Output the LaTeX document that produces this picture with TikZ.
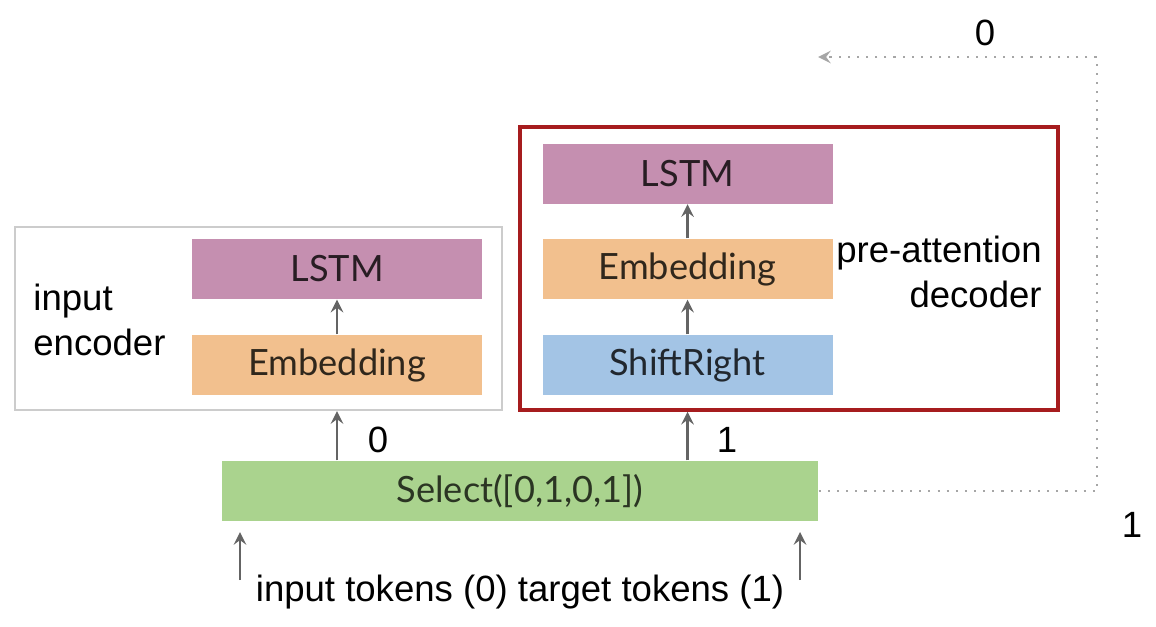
\documentclass[tikz,border=0pt]{standalone}
\usepackage{fontspec}
\setmainfont{Liberation Sans}
\newfontfamily\boxfont{Lato}
\usetikzlibrary{arrows}
\definecolor{lstmcol}{RGB}{197,143,176}
\definecolor{embcol}{RGB}{242,192,142}
\definecolor{shiftcol}{RGB}{163,196,229}
\definecolor{selcol}{RGB}{170,211,142}
\definecolor{redbox}{RGB}{166,28,30}
\definecolor{arrgray}{RGB}{100,100,100}
\tikzset{
  layer/.style={rectangle,minimum width=2.9cm,minimum height=0.6cm,inner sep=0pt,
    font=\boxfont\fontsize{10.3}{12}\selectfont},
  up/.style={->,draw=arrgray,line width=0.6pt},
  plain/.style={font=\fontsize{10.4}{12.6}\selectfont}
}
\begin{document}
\begin{tikzpicture}[>=stealth]
\useasboundingbox (0,0) rectangle (11.56,-6.26);
% encoder
\node[rectangle,draw=black!20,line width=0.6pt,minimum width=4.87cm,minimum height=1.83cm](encbox) at (2.585,-3.185) {};
\node[layer,fill=lstmcol,text=lstmcol!20!black](enclstm) at (3.37,-2.69) {LSTM};
\node[layer,fill=embcol,text=embcol!20!black](encemb) at (3.37,-3.65) {Embedding};
\node[plain,anchor=west,align=left](enclab) at (0.21,-3.2) {input\\encoder};
%
% decoder
\node[rectangle,draw=redbox,line width=1pt,minimum width=5.38cm,minimum height=2.83cm](decbox) at (7.89,-2.685) {};
\node[layer,fill=lstmcol,text=lstmcol!20!black](declstm) at (6.875,-1.735) {LSTM};
\node[layer,fill=embcol,text=embcol!20!black](decemb) at (6.875,-2.69) {Embedding};
\node[layer,fill=shiftcol,text=shiftcol!20!black](shift) at (6.875,-3.65) {ShiftRight};
\node[plain,anchor=east,align=right](declab) at (10.54,-2.72) {pre-attention\\decoder};
%
% select
\node[layer,fill=selcol,text=selcol!25!black,minimum width=5.96cm](sel) at (5.2,-4.91) {Select([0,1,0,1])};
\node[plain](lab0) at (3.78,-4.4) {0};
\node[plain](lab1) at (7.27,-4.4) {1};
\node[plain](tokens) at (5.2,-5.92) {input tokens (0) target tokens (1)};
\coordinate (in0) at (2.4,-5.8);
\coordinate (in1) at (8.0,-5.8);
%
% feedback loop
\coordinate (fbr) at (10.97,-4.91);
\coordinate (fbt) at (10.97,-0.57);
\coordinate (fbend) at (8.18,-0.57);
\node[plain](fb0) at (9.85,-0.33) {0};
\node[plain](fb1) at (11.32,-5.25) {1};
%
\draw[up] (encemb.north) -- (enclstm.south);
\draw[up] (shift.north) -- (decemb.south);
\draw[up] (decemb.north) -- (declstm.south);
\draw[up] (sel.north -| encemb.south) -- (encbox.south -| encemb.south);
\draw[up] (sel.north -| shift.south) -- (decbox.south -| shift.south);
\draw[up] (in0) -- (in0 |- 0,-5.32);
\draw[up] (in1) -- (in1 |- 0,-5.32);
\draw[->,draw=black!35,line width=0.6pt,dotted] (sel.east) -- (fbr) -- (fbt) -- (fbend);
\end{tikzpicture}
\end{document}
